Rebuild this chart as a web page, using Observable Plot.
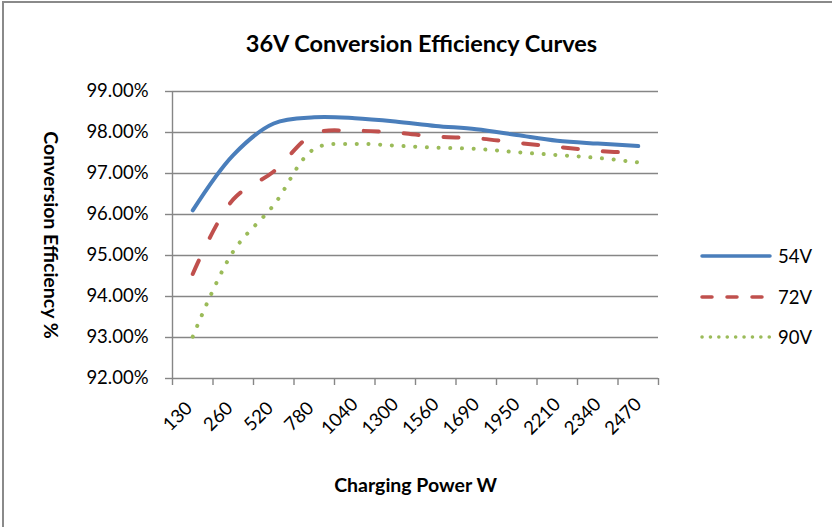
<!DOCTYPE html>
<html>
<head>
<meta charset="utf-8">
<script src="https://cdn.jsdelivr.net/npm/d3@7"></script>
<script src="https://cdn.jsdelivr.net/npm/@observablehq/plot@0.6"></script>
<style>
  html, body { margin: 0; padding: 0; background: #fff; }
  #wrap { position: relative; width: 832px; height: 527px; overflow: hidden; font-family: Lato, "Open Sans", sans-serif; }
  #frame { position: absolute; left: 2px; top: 1px; width: 840px; height: 540px; border-top: 2px solid #8a8a8a; border-left: 2px solid #8a8a8a; box-sizing: border-box; pointer-events: none; }
  #legend { position: absolute; left: 700px; top: 236px; }
  .item { display: flex; align-items: center; height: 40.5px; }
  .item span { font-size: 18.5px; margin-left: 6px; color: #000; }
</style>
</head>
<body>
<div id="wrap"><div id="chart"></div><div id="frame"></div><div id="legend"></div></div>
<script>
const categories = ["130", "260", "520", "780", "1040", "1300", "1560", "1690", "1950", "2210", "2340", "2470"];
const seriesNames = ["54V", "72V", "90V"];
const v54 = [96.10, 97.45, 98.22, 98.37, 98.35, 98.27, 98.16, 98.08, 97.94, 97.80, 97.73, 97.67];
const v72 = [94.55, 96.37, 97.05, 97.97, 98.04, 98.00, 97.90, 97.86, 97.75, 97.65, 97.55, 97.50];
const v90 = [93.02, 95.10, 96.23, 97.60, 97.72, 97.68, 97.63, 97.60, 97.52, 97.45, 97.38, 97.27];
const yTicks = [92, 93, 94, 95, 96, 97, 98, 99];
const titleText = "36V Conversion Efficiency Curves";
const xTitle = "Charging Power W";
const yTitle = "Conversion Efficiency %";

const colors = {"54V": "#4a7ebb", "72V": "#c0504d", "90V": "#9bbb59"};
const dashes = {"54V": null, "72V": "15,25", "90V": "0.1,11.6"};
const legendDashes = {"54V": null, "72V": "10,15", "90V": "0.1,8.3"};

const rows = (name, vals) => vals.map((v, i) => ({series: name, xi: i + 0.5, v}));
const data = {"54V": rows("54V", v54), "72V": rows("72V", v72), "90V": rows("90V", v90)};
const gray = "#868686";

const chart = Plot.plot({
  width: 832,
  height: 527,
  marginLeft: 172,
  marginRight: 174,
  marginTop: 91,
  marginBottom: 149,
  x: {domain: [0, categories.length], axis: null},
  y: {domain: [92, 99], axis: null},
  style: {fontFamily: "Lato, 'Open Sans', sans-serif", fontSize: "18.5px", color: "#000", background: "transparent", overflow: "visible"},
  marks: [
    Plot.gridY(yTicks, {stroke: gray, strokeOpacity: 1, strokeWidth: 1.4}),
    Plot.ruleX([0], {stroke: gray, strokeWidth: 1.4}),
    Plot.axisY(yTicks, {tickSize: 7, tickPadding: 17, tickFormat: d => d.toFixed(2) + "%", stroke: gray, strokeWidth: 1.4, fill: "#000", label: null, fontSize: 18.5}),
    Plot.axisX(d3.range(categories.length + 1), {tickSize: 7, tickFormat: () => "", stroke: gray, strokeWidth: 1.4, label: null}),
    Plot.text(categories, {x: (d, i) => i + 0.5, frameAnchor: "bottom", rotate: -45, textAnchor: "middle", lineAnchor: "middle", dy: 38, dx: -15, fill: "#000", fontSize: 18.5}),
    ...seriesNames.map(n => Plot.line(data[n], {
      x: "xi", y: "v", stroke: colors[n], strokeWidth: 4,
      strokeDasharray: dashes[n], strokeLinecap: "round", strokeLinejoin: "round",
      curve: "catmull-rom"
    })),
    Plot.text([titleText], {frameAnchor: "top", dy: -47, dx: 6, textAnchor: "middle", lineAnchor: "middle", fontWeight: "bold", fontSize: 23.5, fill: "#000"}),
    Plot.text([yTitle], {frameAnchor: "left", dx: -122, textAnchor: "middle", lineAnchor: "middle", rotate: 90, fontWeight: "bold", fontSize: 19.5, fill: "#000"}),
    Plot.text([xTitle], {frameAnchor: "bottom", dy: 107, textAnchor: "middle", lineAnchor: "middle", fontWeight: "bold", fontSize: 19.5, fill: "#000"})
  ]
});
document.getElementById("chart").appendChild(chart);

const legend = document.getElementById("legend");
for (const n of seriesNames) {
  const item = document.createElement("div");
  item.className = "item";
  const dash = legendDashes[n] ? ` stroke-dasharray="${legendDashes[n]}"` : "";
  item.innerHTML = `<svg width="72" height="8"><line x1="2" y1="4" x2="70" y2="4" stroke="${colors[n]}" stroke-width="3.5" stroke-linecap="round"${dash}/></svg><span>${n}</span>`;
  legend.appendChild(item);
}
</script>
</body>
</html>
